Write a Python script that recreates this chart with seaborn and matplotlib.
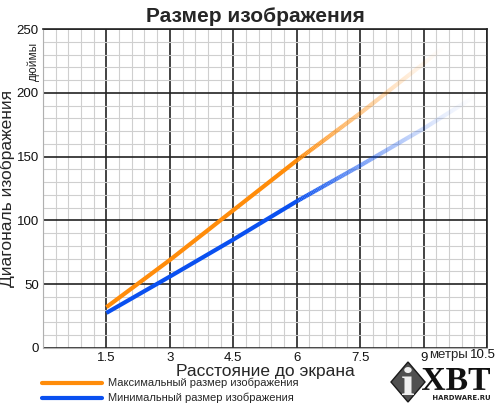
import numpy as np
import matplotlib
matplotlib.use("Agg")
import matplotlib.pyplot as plt
import seaborn as sns
from matplotlib.collections import LineCollection
from matplotlib.colors import to_rgba
from matplotlib.patches import Polygon, PathPatch
from matplotlib.textpath import TextPath
from matplotlib.font_manager import FontProperties
from matplotlib.transforms import Affine2D
from matplotlib.ticker import MultipleLocator

# values (distance in metres, diagonal in inches)
max_dist = [1.5, 3, 4.5, 6, 7.5, 9, 9.55]
max_diag = [32, 69, 108, 147, 184, 223, 238]
min_dist = [1.5, 3, 4.5, 6, 7.5, 9, 10.25]
min_diag = [27.5, 56, 85, 115, 143, 172, 198]
x_ticks = [1.5, 3, 4.5, 6, 7.5, 9, 10.5]
x_labels = ["1.5", "3", "4.5", "6", "7.5", "9", ""]
y_ticks = [0, 50, 100, 150, 200, 250]

orange = "#ff8c0a"
blue = "#0a50f0"

sns.set_style("white")
plt.rcParams['font.family'] = ['Liberation Sans', 'DejaVu Sans']

W, H = 500, 407
fig = plt.figure(figsize=(5, 4.07), dpi=100)
ax = fig.add_axes([0.086, 0.145, 0.888, 0.7835])

ax.set_xlim(0, 10.5)
ax.set_ylim(0, 250)
ax.xaxis.set_minor_locator(MultipleLocator(0.3))
ax.yaxis.set_minor_locator(MultipleLocator(10))
ax.set_xticks(x_ticks)
ax.set_yticks(y_ticks)
ax.set_xticklabels(x_labels)
ax.grid(which="minor", color="#cfcfcf", lw=0.8, zorder=0)
ax.grid(which="major", color="#222222", lw=1.2, zorder=1)
ax.set_axisbelow(True)
ax.tick_params(length=0, labelsize=9.5, pad=3, colors="#111111")
for side in ["top", "right"]:
    ax.spines[side].set_color("#222222")
    ax.spines[side].set_linewidth(1.2)
for side in ["left", "bottom"]:
    ax.spines[side].set_color("#b0b0b0")
    ax.spines[side].set_linewidth(0.8)


def fading_line(xs, ys, color, fade_start):
    # solid part through seaborn, then a tail fading to white
    xs = np.asarray(xs, float)
    ys = np.asarray(ys, float)
    keep = xs <= fade_start
    sns.lineplot(x=xs[keep], y=ys[keep], ax=ax, color=color, lw=3,
                 zorder=3, solid_capstyle="butt")
    tx = np.linspace(xs[keep][-1], xs[-1], 120)
    ty = np.interp(tx, xs, ys)
    pts = np.column_stack([tx, ty]).reshape(-1, 1, 2)
    segs = np.concatenate([pts[:-1], pts[1:]], axis=1)
    t = (tx[:-1] - tx[0]) / (tx[-1] - tx[0])
    rgba = np.array([to_rgba(color)] * len(t))
    rgba[:, 3] = (1 - t) ** 1.4
    ax.add_collection(LineCollection(segs, colors=rgba, lw=3, zorder=3,
                                     capstyle="butt"))


fading_line(max_dist, max_diag, orange, 6)
fading_line(min_dist, min_diag, blue, 6)

ax.set_xlabel("Расстояние до экрана", fontsize=12.5, labelpad=0)
ax.set_ylabel("Диагональ изображения", fontsize=12.5, labelpad=1)
tick_y = 1 - 355 / H
fig.text(449 / W, tick_y, "метры", ha="center", va="center", fontsize=9.5)
fig.text(483 / W, tick_y, "10.5", ha="center", va="center", fontsize=9.5,
         color="#111111")
ax.text(-0.23, 225, "дюймы", rotation=90, ha="center", va="center",
        fontsize=8.5, clip_on=False)

fig.text(0.51, 0.96, "Размер изображения", ha="center", va="center",
         fontsize=15, fontweight="bold")

# legend at the bottom
fig.add_artist(plt.Line2D([42 / W, 102 / W], [1 - 383 / H, 1 - 383 / H],
                          color=orange, lw=3))
fig.add_artist(plt.Line2D([42 / W, 102 / W], [1 - 398 / H, 1 - 398 / H],
                          color=blue, lw=3))
fig.text(108 / W, 1 - 383 / H, "Максимальный размер изображения",
         va="center", fontsize=8)
fig.text(108 / W, 1 - 398 / H, "Минимальный размер изображения",
         va="center", fontsize=8)


def text_in_box(s, x0, y0, x1, y1, prop, color):
    # text outline stretched to a box given in pixels (y measured from top)
    tp = TextPath((0, 0), s, size=1, prop=prop)
    ext = tp.get_extents()
    sx = (x1 - x0) / W / ext.width
    sy = (y1 - y0) / H / ext.height
    tr = Affine2D().translate(-ext.x0, -ext.y0).scale(sx, sy).translate(
        x0 / W, 1 - y1 / H)
    fig.add_artist(PathPatch(tr.transform_path(tp), facecolor=color, lw=0,
                             transform=fig.transFigure))


# iXBT logo
cx, cy, rx, ry = 408, 382, 17, 20
diamond = Polygon([[(cx - rx) / W, 1 - cy / H], [cx / W, 1 - (cy - ry) / H],
                   [(cx + rx) / W, 1 - cy / H], [cx / W, 1 - (cy + ry) / H]],
                  closed=True, transform=fig.transFigure,
                  facecolor="#505050", edgecolor="#1a1a1a", lw=1)
fig.add_artist(diamond)
serif = FontProperties(family="Liberation Serif", weight="bold")
text_in_box("i", 402, 367, 414, 395, serif, "#f0f0f0")
text_in_box("XBT", 422, 368, 490, 390, serif, "#111111")
text_in_box("HARDWARE.RU", 433, 395, 490, 400,
            FontProperties(family="DejaVu Sans", weight="bold"), "#222222")

fig.savefig("out.png", dpi=100)
